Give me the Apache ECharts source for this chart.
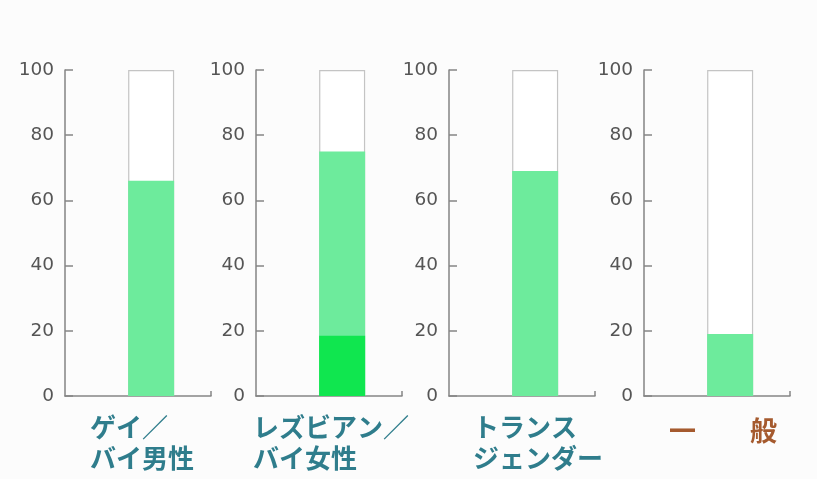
<!DOCTYPE html>
<html>
<head>
<meta charset="utf-8">
<script src="https://cdn.jsdelivr.net/npm/echarts@6/dist/echarts.min.js"></script>
<style>html,body{margin:0;padding:0;background:#fcfcfc;}#c{width:817px;height:479px;}</style>
</head>
<body>
<div id="c"></div>
<script>
// ---- data ----
var categories = ['ゲイ／\nバイ男性', 'レズビアン／\nバイ女性', 'トランス\nジェンダー', '一　　般'];
var totals = [66, 75, 69, 19];          // light green bar height (%)
var inner = [null, 18.5, null, null];   // darker green segment (%)
var scaleMax = [100, 100, 100, 100];    // outline box (%)
var yTicks = [0, 20, 40, 60, 80, 100];

// ---- layout / style ----
var gridLefts = [65, 256, 449, 644];
var gridW = 146, gridTop = 70, gridH = 326;
var barPos = 0.59;   // relative horizontal placement of the bar within each panel
var labelLefts = [90, 253, 473, 669];
var labelColors = ['#2f7d8c', '#2f7d8c', '#2f7d8c', '#a55a2e'];
var light = '#6deb9c', dark = '#10e64f';

var grids = [], xAxes = [], yAxes = [], series = [], graphics = [];
for (var i = 0; i < categories.length; i++) {
  grids.push({left: gridLefts[i], top: gridTop, width: gridW, height: gridH});
  xAxes.push({
    type: 'value', gridIndex: i, min: 0, max: 1,
    axisLine: {show: true, lineStyle: {color: '#858585', width: 1.5}},
    axisTick: {show: true, inside: true, length: 5, customValues: [1], lineStyle: {color: '#858585', width: 1.5}},
    axisLabel: {show: false}, splitLine: {show: false}
  });
  yAxes.push({
    type: 'value', gridIndex: i, min: yTicks[0], max: yTicks[yTicks.length - 1], interval: yTicks[1] - yTicks[0],
    axisLine: {show: true, lineStyle: {color: '#858585', width: 1.5}},
    axisTick: {show: true, inside: true, length: 8, lineStyle: {color: '#858585', width: 1.5}},
    axisLabel: {color: '#555', fontSize: 18.5, fontFamily: 'DejaVu Sans', margin: 11},
    splitLine: {show: false}
  });
  series.push({
    type: 'bar', xAxisIndex: i, yAxisIndex: i, barWidth: 46, barGap: '-100%', z: 1,
    itemStyle: {color: '#ffffff', borderColor: '#c4c4c4', borderWidth: 1.2},
    data: [[barPos, scaleMax[i]]], silent: true
  });
  series.push({
    type: 'bar', xAxisIndex: i, yAxisIndex: i, barWidth: 46, barGap: '-100%', z: 2,
    itemStyle: {color: light},
    data: [[barPos, totals[i]]]
  });
  if (inner[i] != null) {
    series.push({
      type: 'bar', xAxisIndex: i, yAxisIndex: i, barWidth: 46, barGap: '-100%', z: 3,
      itemStyle: {color: dark},
      data: [[barPos, inner[i]]]
    });
  }
  graphics.push({
    type: 'text', left: labelLefts[i], top: i === 3 ? 415 : 412,
    style: {
      text: categories[i], fill: labelColors[i],
      font: 'bold ' + (i === 3 ? 27 : 26) + 'px "Noto Sans CJK JP"',
      lineHeight: 31
    }
  });
}

var chart = echarts.init(document.getElementById('c'));
chart.setOption({
  backgroundColor: '#fcfcfc',
  animation: false,
  grid: grids, xAxis: xAxes, yAxis: yAxes, series: series,
  graphic: graphics
});
</script>
</body>
</html>
